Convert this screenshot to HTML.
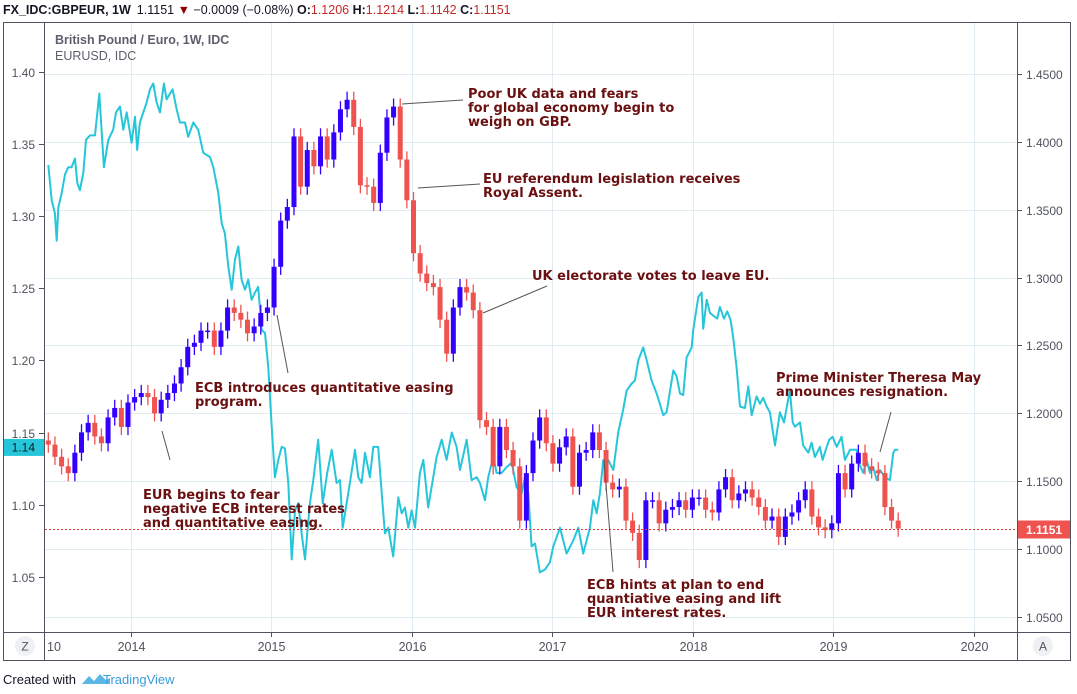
<!DOCTYPE html>
<html><head><meta charset="utf-8"><style>
body{margin:0;background:#fff;width:1077px;height:694px;overflow:hidden;font-family:"Liberation Sans",sans-serif}
svg{position:absolute;left:0;top:0}
</style></head><body>
<svg width="1077" height="694" id="chart">
<text x="3" y="14" font-size="12.5" fill="#131722"><tspan font-weight="bold">FX_IDC:GBPEUR, 1W</tspan><tspan dx="6">1.1151</tspan><tspan fill="#8b0000"> ▼ </tspan><tspan>−0.0009 (−0.08%) </tspan><tspan font-weight="bold">O:</tspan><tspan fill="#c62828">1.1206 </tspan><tspan font-weight="bold">H:</tspan><tspan fill="#c62828">1.1214 </tspan><tspan font-weight="bold">L:</tspan><tspan fill="#c62828">1.1142 </tspan><tspan font-weight="bold">C:</tspan><tspan fill="#c62828">1.1151</tspan></text>
<g id="grid"></g>
<g id="plot" clip-path="url(#clip)"></g>
<defs><clipPath id="clip"><rect x="45" y="23" width="972" height="609"/></clipPath></defs>
<g id="axes"></g>
<rect x="3.5" y="22.5" width="1067" height="638" fill="none" stroke="#50535e"/>
<line x1="44.5" y1="22" x2="44.5" y2="660" stroke="#50535e"/>
<line x1="1017.5" y1="22" x2="1017.5" y2="660" stroke="#50535e"/>
<line x1="3" y1="632.5" x2="1071" y2="632.5" stroke="#50535e"/>
<text x="55" y="44" font-size="12.5" font-weight="bold" fill="#5d606b">British Pound / Euro, 1W, IDC</text>
<text x="55" y="60" font-size="12.5" fill="#5d606b">EURUSD, IDC</text>
<circle cx="25" cy="646" r="10" fill="#eef0f4"/>
<text x="25" y="650.5" font-size="12" fill="#50535e" text-anchor="middle">Z</text>
<circle cx="1043" cy="646" r="10" fill="#eef0f4"/>
<text x="1043" y="650.5" font-size="12" fill="#50535e" text-anchor="middle">A</text>
<g id="annot" font-family="'DejaVu Sans',sans-serif" font-weight="bold" font-size="13" fill="#6b1010"></g>
<text x="3" y="684" font-size="13" fill="#131722">Created with</text>
<path d="M82 684 l7 -8 l5 5 l6 -7 l6 6 l4 -2 v6 z" fill="#5bb8e6"/>
<text x="103" y="684" font-size="13" fill="#3a9bd9">TradingView</text>
</svg>
<script>
const gbpClose=[1.177,1.168,1.161,1.156,1.171,1.186,1.193,1.183,1.178,1.197,1.204,1.190,1.208,1.212,1.215,1.212,1.200,1.210,1.215,1.222,1.234,1.249,1.252,1.261,1.261,1.249,1.261,1.278,1.274,1.269,1.259,1.264,1.274,1.278,1.308,1.342,1.352,1.404,1.367,1.394,1.382,1.404,1.387,1.407,1.424,1.431,1.411,1.368,
1.367,1.355,1.392,1.418,1.426,1.387,1.357,1.318,1.303,1.296,1.293,1.269,1.244,1.278,1.293,1.289,1.276,1.195,1.190,1.161,1.190,1.173,1.161,1.121,1.156,1.180,1.197,1.178,1.163,1.175,1.183,1.146,1.171,1.173,1.186,1.173,1.149,1.144,1.146,1.121,1.112,1.092,1.136,1.136,1.119,1.129,1.131,1.136,1.129,1.138,1.138,1.129,1.127,1.144,1.153,1.136,1.141,1.144,1.138,1.131,1.121,1.124,1.109,1.124,1.127,1.136,1.144,1.124,1.116,1.114,1.119,1.156,1.144,1.163,1.171,1.161,1.158,1.156,1.131,1.121,1.1151];
const gbpStart=2013.415, gbpEnd=2019.464;
const eurDates=[2013.415,2013.439,2013.462,2013.475,2013.486,2013.510,2013.534,2013.557,2013.581,2013.605,2013.621,2013.640,2013.664,2013.683,2013.712,2013.747,2013.778,2013.811,2013.842,2013.877,2013.897,2013.925,2013.949,2013.973,2014.008,2014.032,2014.048,2014.067,2014.115,2014.139,2014.162,2014.186,2014.210,2014.238,2014.257,2014.300,2014.329,2014.352,2014.388,2014.411,2014.447,2014.482,2014.518,2014.566,2014.589,2014.625,2014.649,2014.672,2014.696,2014.720,2014.744,2014.767,2014.791,2014.815,2014.838,2014.862,2014.886,2014.909,2014.934,2014.957,2014.981,2015.005,2015.028,2015.052,2015.076,2015.099,2015.123,2015.147,2015.171,2015.194,2015.218,2015.242,2015.277,2015.301,2015.336,2015.368,2015.400,2015.432,2015.467,2015.491,2015.510,2015.550,2015.598,2015.621,2015.645,2015.669,2015.704,
2015.728,2015.763,2015.788,2015.811,2015.835,2015.870,2015.906,2015.930,2015.953,2015.977,2016.001,2016.025,2016.060,2016.084,2016.119,2016.179,2016.215,2016.250,2016.286,2016.321,2016.345,2016.393,2016.428,2016.464,2016.487,2016.523,2016.546,2016.582,2016.606,2016.642,2016.677,2016.713,2016.748,2016.784,2016.807,2016.831,2016.855,2016.879,2016.914,2016.950,2016.985,2017.009,2017.057,2017.104,2017.151,2017.187,2017.222,2017.270,2017.294,2017.318,2017.341,2017.365,2017.400,2017.436,2017.471,2017.507,2017.531,2017.567,2017.590,2017.614,2017.649,2017.674,2017.709,2017.745,
2017.792,2017.816,2017.863,2017.887,2017.911,2017.934,2017.958,2017.994,2018.005,2018.041,2018.065,2018.076,2018.101,2018.124,2018.148,2018.176,2018.195,2018.224,2018.247,2018.271,2018.290,2018.314,2018.338,2018.373,2018.397,2018.421,2018.456,2018.480,2018.503,2018.528,2018.551,2018.587,2018.622,2018.651,2018.681,2018.693,2018.713,2018.729,2018.765,2018.788,2018.824,2018.848,2018.871,2018.907,2018.926,2018.955,2018.973,2018.997,2019.026,2019.061,2019.085,2019.121,2019.144,2019.168,2019.192,2019.215,2019.239,2019.263,2019.286,2019.311,2019.334,2019.370,2019.405,2019.429,2019.441,2019.464];
const eurValues=[1.3355,1.311,1.302,1.283,1.306,1.316,1.329,1.334,1.334,1.340,1.323,1.318,1.330,1.353,1.356,1.356,1.385,1.334,1.353,1.360,1.372,1.376,1.360,1.372,1.351,1.369,1.346,1.365,1.379,1.388,1.392,1.379,1.372,1.392,1.381,1.388,1.374,1.365,1.365,1.355,1.365,1.360,1.344,1.341,1.334,1.316,1.295,1.288,1.265,1.249,1.270,1.279,1.256,1.249,1.256,1.242,1.247,1.251,1.221,1.219,1.195,1.154,1.119,1.131,1.140,1.139,1.115,1.062,1.096,1.101,1.080,1.062,1.101,1.117,1.145,1.101,1.122,1.138,1.115,1.117,1.084,1.108,1.138,1.119,1.115,1.136,1.119,
1.140,1.140,1.108,1.080,1.084,1.064,1.105,1.094,1.098,1.084,1.096,1.084,1.122,1.131,1.098,1.133,1.145,1.131,1.150,1.140,1.124,1.145,1.117,1.119,1.115,1.103,1.119,1.133,1.122,1.122,1.126,1.129,1.112,1.108,1.119,1.108,1.071,1.073,1.053,1.055,1.060,1.071,1.084,1.066,1.075,1.084,1.066,1.084,1.103,1.094,1.108,1.131,1.131,1.124,1.150,1.166,1.179,1.184,1.186,1.200,1.209,1.200,1.186,1.177,
1.162,1.164,1.193,1.189,1.177,1.176,1.202,1.209,1.221,1.244,1.247,1.222,1.242,1.233,1.231,1.229,1.237,1.229,1.234,1.228,1.216,1.195,1.168,1.167,1.182,1.162,1.175,1.170,1.174,1.168,1.164,1.141,1.164,1.157,1.173,1.179,1.157,1.154,1.157,1.141,1.136,1.143,1.133,1.140,1.131,1.140,1.145,1.147,1.140,1.147,1.131,1.138,1.138,1.138,1.127,1.122,1.131,1.122,1.126,1.117,1.124,1.119,1.117,1.136,1.138,1.138];
const leftTicks=[1.40,1.35,1.30,1.25,1.20,1.15,1.10,1.05];
const rightTicks=[1.45,1.40,1.35,1.30,1.25,1.20,1.15,1.10,1.05];
const yearTicks=[2014,2015,2016,2017,2018,2019,2020];
const lastEur=1.14, lastGbp=1.1151;

const NS='http://www.w3.org/2000/svg';
const xT=t=>130.5+(t-2014)*140.5;
const yR=v=>74+(1.45-v)*1357.5;
const yL=v=>72+(1.40-v)*1442;
function mk(tag,attrs,parent){const e=document.createElementNS(NS,tag);for(const k in attrs)e.setAttribute(k,attrs[k]);parent.appendChild(e);return e;}
const grid=document.getElementById('grid'),plot=document.getElementById('plot'),axes=document.getElementById('axes');

rightTicks.forEach(v=>{const y=Math.round(yR(v))+0.5;
 const l=mk('line',{x1:45,x2:1017,y1:y,y2:y,stroke:'#e1ecf2'},grid);
 
 
 mk('line',{x1:1017,x2:1022,y1:y,y2:y,stroke:'#50535e'},axes);
 const t=mk('text',{x:1026,y:y+4.5,'font-size':12,fill:'#50535e'},axes);t.textContent=v.toFixed(4);
 
 
});
leftTicks.forEach(v=>{const y=Math.round(yL(v))+0.5;
 mk('line',{x1:39,x2:44,y1:y,y2:y,stroke:'#50535e'},axes);
 const t=mk('text',{x:35,y:y+4.5,'font-size':12,fill:'#50535e','text-anchor':'end'},axes);t.textContent=v.toFixed(2);
 
 
});
yearTicks.forEach(yr=>{const x=Math.round(xT(yr))+0.5;
 const l=mk('line',{x1:x,x2:x,y1:23,y2:632,stroke:'#e1ecf2'},grid);
 
 
 mk('line',{x1:x,x2:x,y1:632,y2:637,stroke:'#50535e'},axes);
 const t=mk('text',{x:x,y:651,'font-size':12.5,fill:'#50535e','text-anchor':'middle'},axes);t.textContent=yr;
 
 
});
{const t=mk('text',{x:47,y:651,'font-size':12.5,fill:'#50535e'},axes);t.textContent='10';
 
 }

let d='';eurDates.forEach((t,i)=>{d+=(i?'L':'M')+xT(t).toFixed(1)+' '+yL(eurValues[i]).toFixed(1);});
const ln=mk('path',{d:d,fill:'none',stroke:'#26c6da','stroke-width':2,'stroke-linejoin':'round'},plot);



const n=gbpClose.length;
gbpClose.forEach((c,i)=>{
 const t=gbpStart+(gbpEnd-gbpStart)*i/(n-1);
 const o=i?gbpClose[i-1]:c+0.003;
 const up=c>=o, col=up?'#3300ff':'#ef5350';
 const x=xT(t);
 const hi=Math.max(o,c)+0.006, lo=Math.min(o,c)-0.006;
 const g=mk('g',{},plot);
 
 
 mk('line',{x1:x,x2:x,y1:yR(hi),y2:yR(lo),stroke:col,'stroke-width':1.3},g);
 const y1=yR(Math.max(o,c)),y2=yR(Math.min(o,c));
 mk('rect',{x:x-2.5,y:y1,width:5,height:Math.max(1.5,y2-y1),fill:col},g);
});

{const y=Math.round(yR(lastGbp))+0.5;
 const l=mk('line',{x1:45,x2:1017,y1:y,y2:y,stroke:'#e53935','stroke-dasharray':'2 2'},plot);
 
 
 const r=mk('rect',{x:1018,y:y-9,width:52,height:18,fill:'#ef5350'},axes);
 
 
 const t=mk('text',{x:1026,y:y+4.5,'font-size':12,'font-weight':'bold',fill:'#fff'},axes);t.textContent=lastGbp.toFixed(4);}
{const y=yL(lastEur);
 const r=mk('rect',{x:3,y:y-8,width:41,height:17,fill:'#26c6da'},axes);
 
 
 const t=mk('text',{x:35,y:y+4.5,'font-size':12,fill:'#131722','text-anchor':'end'},axes);t.textContent=lastEur.toFixed(2);}

const an=document.getElementById('annot');
const notes=[
 {name:'note-poor-uk-data',x:468,y:98,lines:['Poor UK data and fears','for global economy begin to','weigh on GBP.'],l:[402,104,463,100]},
 {name:'note-eu-referendum',x:483,y:183,lines:['EU referendum legislation receives','Royal Assent.'],l:[418,188,480,184]},
 {name:'note-brexit-vote',x:532,y:280,lines:['UK electorate votes to leave EU.'],l:[483,313,547,286]},
 {name:'note-ecb-qe',x:195,y:392,lines:['ECB introduces quantitative easing','program.'],l:[277,315,288,373]},
 {name:'note-eur-fear',x:143,y:499,lines:['EUR begins to fear','negative ECB interest rates','and quantitative easing.'],l:[162,431,170,460]},
 {name:'note-ecb-hints',x:587,y:589,lines:['ECB hints at plan to end','quantiative easing and lift','EUR interest rates.'],l:[604,460,613,572]},
 {name:'note-may-resigns',x:776,y:382,lines:['Prime Minister Theresa May','announces resignation.'],l:[891,412,880,452]}
];
notes.forEach(nt=>{
 const ln=mk('line',{x1:nt.l[0],y1:nt.l[1],x2:nt.l[2],y2:nt.l[3],stroke:'#555','stroke-width':1},an);
 
 
 const t=mk('text',{x:nt.x,y:nt.y},an);
 
 
 nt.lines.forEach((s,i)=>{const ts=mk('tspan',{x:nt.x,dy:i?14:0},t);ts.textContent=s;});
});
</script>
</body></html>
